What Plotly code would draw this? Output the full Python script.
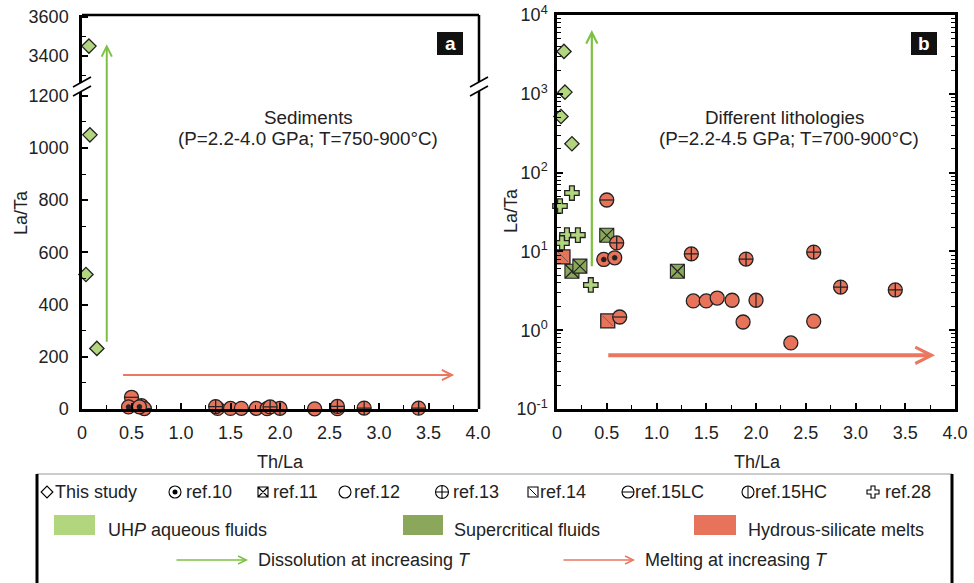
import plotly.graph_objects as go
import numpy as np

W, H = 974, 583

# ---------------- data ----------------
study_x = [0.07, 0.08, 0.04, 0.15]
study_y = [3450, 1050, 515, 232]

ref10_x = [0.47, 0.58]
ref10_y = [7.9, 8.3]
ref11_x = [0.50, 0.15, 0.23, 1.21]
ref11_y = [16.0, 5.6, 6.5, 5.6]
ref12_x = [1.37, 1.50, 1.61, 1.76, 1.87, 2.35, 2.58]
ref12_y = [2.35, 2.35, 2.56, 2.4, 1.27, 0.69, 1.3]
ref13_x = [0.60, 1.35, 1.90, 2.58, 2.85, 3.40]
ref13_y = [12.8, 9.3, 8.0, 9.8, 3.53, 3.24]
ref14_x = [0.06, 0.51]
ref14_y = [8.5, 1.31]
ref15lc_x = [0.50, 0.63]
ref15lc_y = [44.9, 1.47]
ref15hc_x = [2.00]
ref15hc_y = [2.4]
ref28_x = [0.15, 0.03, 0.10, 0.21, 0.05, 0.34]
ref28_y = [55, 37.7, 16.1, 16.1, 12.8, 3.75]

x_ticks = [0, 0.5, 1.0, 1.5, 2.0, 2.5, 3.0, 3.5, 4.0]
x_ticklabels = ["0", "0.5", "1.0", "1.5", "2.0", "2.5", "3.0", "3.5", "4.0"]
log_ticks = [0.1, 1, 10, 100, 1000, 10000]
log_ticklabels = ["10<sup>-1</sup>", "10<sup>0</sup>", "10<sup>1</sup>", "10<sup>2</sup>",
                  "10<sup>3</sup>", "10<sup>4</sup>"]

LG = "#b2d67e"
DG = "#8aa75b"
OR = "#e8735b"
ARG = "#7cc142"
ARO = "#ea7760"
EDGE = "#222222"
FONT = "Liberation Sans, Arial, sans-serif"
FS = 18

def px(x):
    return x / W

def py(y):
    return 1 - y / H

fig = go.Figure()

def add_pts(x, y, xa, ya, symbol, fill, size=14, overlay=None, ovsize=10, ovcolor=EDGE, ovw=1.2, lw=1.3):
    fig.add_trace(go.Scatter(x=x, y=y, mode="markers", xaxis=xa, yaxis=ya, cliponaxis=False,
                             showlegend=False, hoverinfo="skip",
                             marker=dict(symbol=symbol, size=size, color=fill,
                                         line=dict(color=EDGE, width=lw))))
    if overlay:
        fig.add_trace(go.Scatter(x=x, y=y, mode="markers", xaxis=xa, yaxis=ya, cliponaxis=False,
                                 showlegend=False, hoverinfo="skip",
                                 marker=dict(symbol=overlay, size=ovsize, color=ovcolor,
                                             line=dict(color=ovcolor, width=ovw))))

# ---------------- panel a ----------------
sx = np.array(study_x); sy = np.array(study_y)
low = sy < 1241
add_pts(ref12_x, ref12_y, "x", "y", "circle", OR)
add_pts(ref15hc_x, ref15hc_y, "x", "y", "circle", OR, overlay="line-ns")
add_pts(ref13_x, ref13_y, "x", "y", "circle-cross", OR)
add_pts(ref15lc_x, ref15lc_y, "x", "y", "circle", OR, overlay="line-ew")
add_pts(ref10_x, ref10_y, "x", "y", "circle", OR, overlay="circle", ovsize=5, ovw=0.5)
add_pts(sx[low], sy[low], "x", "y", "diamond", LG, size=11)
add_pts(sx[~low], sy[~low], "x", "y2", "diamond", LG, size=11)

# ---------------- panel b ----------------
add_pts(study_x, study_y, "x2", "y3", "diamond", LG, size=11)
add_pts(ref28_x, ref28_y, "x2", "y3", "cross", LG, size=12)
add_pts(ref11_x, ref11_y, "x2", "y3", "square-x", DG, size=14, lw=1.1)
add_pts(ref14_x, ref14_y, "x2", "y3", "square", OR, size=14, overlay="line-nw", ovcolor="#555", ovw=0.8)
add_pts(ref12_x, ref12_y, "x2", "y3", "circle", OR)
add_pts(ref15hc_x, ref15hc_y, "x2", "y3", "circle", OR, overlay="line-ns")
add_pts(ref13_x, ref13_y, "x2", "y3", "circle-cross", OR)
add_pts(ref15lc_x, ref15lc_y, "x2", "y3", "circle", OR, overlay="line-ew")
add_pts(ref10_x, ref10_y, "x2", "y3", "circle", OR, overlay="circle", ovsize=5, ovw=0.5)

# ---------------- legend key markers (overlay axis in pixel units) ----------------
leg_y = 492
leg_keys = [(47, "diamond-open", None, 9), (175, "circle-open", "dot", 12), (263, "square-x-open", None, 10),
            (345, "circle-open", None, 12), (442, "circle-cross-open", None, 13), (533, "square-open", "line-nw", 10),
            (628, "circle-open", "line-ew", 12), (748, "circle-open", "line-ns", 12), (873, "cross-open", None, 10)]
for kx, sym, ov, sz in leg_keys:
    fig.add_trace(go.Scatter(x=[kx], y=[leg_y], mode="markers", xaxis="x3", yaxis="y4", showlegend=False,
                             hoverinfo="skip", cliponaxis=False,
                             marker=dict(symbol=sym, size=sz, color="black",
                                         line=dict(color="black", width=1.1))))
    if ov == "dot":
        fig.add_trace(go.Scatter(x=[kx], y=[leg_y], mode="markers", xaxis="x3", yaxis="y4", showlegend=False,
                                 hoverinfo="skip", cliponaxis=False,
                                 marker=dict(symbol="circle", size=5, color="black",
                                             line=dict(color="black", width=0))))
    elif ov:
        fig.add_trace(go.Scatter(x=[kx], y=[leg_y], mode="markers", xaxis="x3", yaxis="y4", showlegend=False,
                                 hoverinfo="skip", cliponaxis=False,
                                 marker=dict(symbol=ov, size=sz * 0.72, color="black",
                                             line=dict(color="black", width=1.0))))

tickfont = dict(family=FONT, size=FS, color="#222")
axis_common = dict(showline=True, linecolor="black", linewidth=2.5, ticks="inside", ticklen=6,
                   tickwidth=1.5, tickcolor="black", showgrid=False, zeroline=False, tickfont=tickfont,
                   automargin=False)
minor_lin = dict(ticks="inside", ticklen=4, tickwidth=1.2, tickcolor="black")

fig.update_layout(
    width=W, height=H, margin=dict(l=0, r=0, t=0, b=0, autoexpand=False),
    paper_bgcolor="white", plot_bgcolor="rgba(0,0,0,0)",
    xaxis=dict(domain=[px(82), px(478)], range=[0, 4.0], anchor="y", tickmode="array",
               tickvals=x_ticks, ticktext=x_ticklabels, ticklabelstandoff=6,
               minor=dict(dtick=0.25, tick0=0, **minor_lin), **axis_common),
    yaxis=dict(domain=[py(409), py(85)], range=[0, 1241], anchor="x", dtick=200, tick0=0,
               ticklabelstandoff=7,
               minor=dict(dtick=100, tick0=0, **minor_lin), **axis_common),
    yaxis2=dict(domain=[py(85), py(15)], range=[3250, 3610], anchor="x", tickmode="array",
                tickvals=[3400, 3600], ticklabelstandoff=7,
                minor=dict(dtick=100, tick0=0, **minor_lin), **axis_common),
    xaxis2=dict(domain=[px(557), px(955)], range=[0, 4.0], anchor="y3", tickmode="array",
                tickvals=x_ticks, ticktext=x_ticklabels, mirror=True, ticklabelstandoff=6,
                minor=dict(dtick=0.25, tick0=0, **minor_lin), **axis_common),
    yaxis3=dict(domain=[py(409), py(15)], type="log", range=[-1, 4], anchor="x2", tickmode="array",
                tickvals=log_ticks, ticktext=log_ticklabels, mirror="allticks", ticklabelstandoff=3,
                minor=dict(dtick="D1", **minor_lin), **axis_common),
    xaxis3=dict(domain=[0, 1], range=[0, W], visible=False, anchor="y4", fixedrange=True, automargin=False),
    yaxis4=dict(domain=[0, 1], range=[H, 0], visible=False, anchor="x3", fixedrange=True, automargin=False),
)

shapes = []
ann = []

def line(x0, y0, x1, y1, color="black", width=2.5):
    shapes.append(dict(type="line", xref="paper", yref="paper", x0=px(x0), y0=py(y0), x1=px(x1), y1=py(y1),
                       line=dict(color=color, width=width)))

# panel a frame (top + right)
line(82, 15, 479, 15)
line(479, 15, 479, 409)

# axis break marks
for bx in (82, 479):
    path = "M {},{} L {},{} L {},{} L {},{} Z".format(px(bx - 9), py(87), px(bx + 9), py(77),
                                                       px(bx + 9), py(86), px(bx - 9), py(96))
    shapes.append(dict(type="path", xref="paper", yref="paper", path=path, fillcolor="white",
                       line=dict(width=0)))
    line(bx - 9, 87, bx + 9, 77, width=1.6)
    line(bx - 9, 96, bx + 9, 86, width=1.6)

# panel labels boxes
for (x0, x1, t) in ((437, 463, "a"), (911, 937, "b")):
    shapes.append(dict(type="rect", xref="paper", yref="paper", x0=px(x0), x1=px(x1), y0=py(55), y1=py(32),
                       fillcolor="#111", line=dict(width=0), layer="below"))
    ann.append(dict(x=px((x0 + x1) / 2), y=py(43.5), xref="paper", yref="paper", text="<b>%s</b>" % t,
                    showarrow=False, xanchor="center", yanchor="middle",
                    font=dict(family=FONT, size=19, color="white")))

# legend frame
line(37, 474, 952, 474, color="#999", width=1)
line(37, 474, 37, 583, width=3)
line(952, 474, 952, 583, width=3)

# legend swatches
for (x0, x1, c) in ((54, 95, LG), (403, 443, DG), (694, 736, OR)):
    shapes.append(dict(type="rect", xref="paper", yref="paper", x0=px(x0), x1=px(x1), y0=py(535), y1=py(515),
                       fillcolor=c, line=dict(width=0)))

def text(x, y, s, anchor="left", size=FS, angle=0):
    ann.append(dict(x=px(x), y=py(y), xref="paper", yref="paper", text=s, showarrow=False,
                    xanchor=anchor, yanchor="middle", textangle=angle,
                    font=dict(family=FONT, size=size, color="#222")))

# legend texts row 1
for (lx, s) in ((53, "This study"), (184, "ref.10"), (271, "ref.11"), (352, "ref.12"), (451, "ref.13"),
                (538, "ref.14"), (633, "ref.15LC"), (753, "ref.15HC"), (883, "ref.28")):
    text(lx, 492, s)
text(106, 530, "UH<i>P</i> aqueous fluids")
text(452, 530, "Supercritical fluids")
text(746, 530, "Hydrous-silicate melts")
text(256, 560, "Dissolution at increasing <i>T</i>")
text(643, 560, "Melting at increasing <i>T</i>")

# legend arrows (overlay axis in pixel units)
for (x0, x1, c) in ((175, 248, ARG), (562, 635, ARO)):
    ann.append(dict(x=x1, y=560, xref="x3", yref="y4", ax=x0, ay=560,
                    axref="x3", ayref="y4", text="", showarrow=True, arrowhead=5, arrowsize=1,
                    arrowwidth=1.6, arrowcolor=c, standoff=0))

# axis titles
text(280, 462, "Th/La", anchor="center")
text(757, 462, "Th/La", anchor="center")
text(21, 213, "La/Ta", anchor="center", angle=-90)
text(511, 211, "La/Ta", anchor="center", angle=-90)

# panel annotations
text(308, 117, "Sediments", anchor="center", size=18.8)
text(308, 138, "(P=2.2-4.0 GPa; T=750-900°C)", anchor="center", size=18.8)
text(784, 117, "Different lithologies", anchor="center", size=18.8)
text(789, 138, "(P=2.2-4.5 GPa; T=700-900°C)", anchor="center", size=18.8)

# trend arrows in panels
ann.append(dict(x=0.25, y=3460, xref="x", yref="y2", ax=0, ay=299, axref="pixel", ayref="pixel",
                text="", showarrow=True, arrowhead=5, arrowsize=1, arrowwidth=2, arrowcolor=ARG, standoff=0))
ann.append(dict(x=3.76, y=130, xref="x", yref="y", ax=0.4, ay=130, axref="x", ayref="y",
                text="", showarrow=True, arrowhead=5, arrowsize=1, arrowwidth=2, arrowcolor=ARO, standoff=0))
ann.append(dict(x=0.35, y=np.log10(6450), xref="x2", yref="y3", ax=0.35, ay=np.log10(6.2), axref="x2",
                ayref="y3", text="", showarrow=True, arrowhead=5, arrowsize=1, arrowwidth=2.2,
                arrowcolor=ARG, standoff=0))
ann.append(dict(x=3.80, y=np.log10(0.48), xref="x2", yref="y3", ax=0.5, ay=np.log10(0.48), axref="x2",
                ayref="y3", text="", showarrow=True, arrowhead=5, arrowsize=0.8, arrowwidth=4,
                arrowcolor=ARO, standoff=0))

fig.update_layout(shapes=shapes, annotations=ann)
fig.write_html("out.html", config={"displayModeBar": False},
               post_script="document.body.style.margin='0px';document.body.style.padding='0px';")
